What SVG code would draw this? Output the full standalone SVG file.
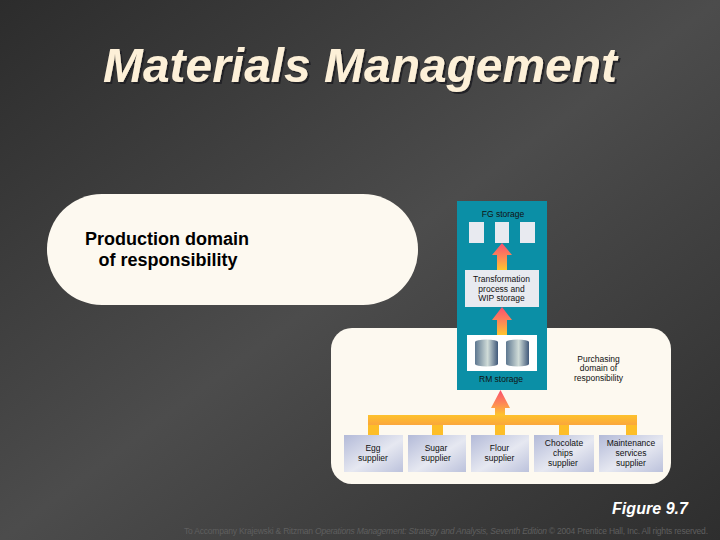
<svg xmlns="http://www.w3.org/2000/svg" width="720" height="540" viewBox="0 0 720 540">
<style>
.t{font-family:"Liberation Sans",Arial,sans-serif}
.s{font-size:8.5px;fill:#111;text-anchor:middle}
.p{font-size:18px;font-weight:700;fill:#000;text-anchor:middle}
.box{fill:#e8eaf0}
.bar{fill:#fdbe28}
.hd{fill:url(#arrowGrad)}
.cyl{fill:url(#cylGrad)}
</style>
<defs>
<linearGradient id="bg" x1="0" y1="0" x2="1" y2="1">
<stop offset="0" stop-color="#2c2c2c"/><stop offset="0.5" stop-color="#4c4c4c"/><stop offset="1" stop-color="#2e2e2e"/>
</linearGradient>
<linearGradient id="arrowGrad" x1="0" y1="0" x2="0" y2="1">
<stop offset="0" stop-color="#fb4f6e"/><stop offset="0.55" stop-color="#fd8a55"/><stop offset="1" stop-color="#fdc52e"/>
</linearGradient>
<linearGradient id="barGrad" x1="0" y1="0" x2="0" y2="1">
<stop offset="0" stop-color="#fdc22c"/><stop offset="1" stop-color="#fba63c"/>
</linearGradient>
<linearGradient id="cylGrad" x1="0" y1="0" x2="1" y2="0">
<stop offset="0" stop-color="#5d7790"/><stop offset="0.55" stop-color="#d0dcd8"/><stop offset="1" stop-color="#41597a"/>
</linearGradient>
<linearGradient id="supGrad" x1="0" y1="0" x2="1" y2="1">
<stop offset="0" stop-color="#b3bad8"/><stop offset="0.55" stop-color="#e6e8f1"/><stop offset="1" stop-color="#bcc2dc"/>
</linearGradient>
<filter id="sh" x="-5%" y="-20%" width="110%" height="150%">
<feDropShadow dx="2" dy="2" stdDeviation="0.4" flood-color="#222226"/>
</filter>
</defs>
<rect width="720" height="540" fill="url(#bg)"/>
<g id="title" class="t" font-size="49" font-weight="700" font-style="italic">
<text x="360" y="82" text-anchor="middle" fill="#fdf0d8" filter="url(#sh)" textLength="514" lengthAdjust="spacingAndGlyphs">Materials Management</text>
</g>
<g id="production-domain">
<rect x="47" y="194" width="371" height="111" rx="55" fill="#fdf9f0"/>
<text class="t p" x="167" y="245">Production domain</text>
<text class="t p" x="168" y="266">of responsibility</text>
</g>
<g id="purchasing-domain">
<rect x="331" y="328" width="340" height="156" rx="21" fill="#fdf9f0"/>
<text class="t s" x="598.500" y="362">Purchasing</text>
<text class="t s" x="598.500" y="371">domain of</text>
<text class="t s" x="598.500" y="381">responsibility</text>
</g>
<g id="operations">
<rect x="457" y="201" width="90" height="189" fill="#0b8fa6"/>
<text class="t s" x="503" y="216.500">FG storage</text>
</g>
<g id="fg-storage">
<rect class="box" x="469" y="222" width="15" height="21"/>
<rect class="box" x="495" y="222" width="14" height="21"/>
<rect class="box" x="520" y="222" width="15" height="21"/>
</g>
<g id="transformation">
<rect class="box" x="465" y="270" width="74" height="37"/>
<text class="t s" x="501.500" y="282">Transformation</text>
<text class="t s" x="501.500" y="292">process and</text>
<text class="t s" x="501.500" y="301">WIP storage</text>
</g>
<g id="rm-storage">
<rect x="467" y="335" width="70" height="36" fill="#fff"/>
<rect class="cyl" x="475" y="342" width="23" height="22"/><ellipse class="cyl" cx="486.500" cy="364" rx="11.500" ry="2.500"/><ellipse class="cyl" cx="486.500" cy="342" rx="11.500" ry="2.500"/>
<rect class="cyl" x="506" y="342" width="23" height="22"/><ellipse class="cyl" cx="517.500" cy="364" rx="11.500" ry="2.500"/><ellipse class="cyl" cx="517.500" cy="342" rx="11.500" ry="2.500"/>
<text class="t s" x="501" y="382">RM storage</text>
</g>
<g id="connectors">
<rect x="368" y="415" width="269" height="10" fill="url(#barGrad)"/>
<rect class="bar" x="368" y="425" width="11" height="10"/>
<rect class="bar" x="432" y="425" width="11" height="10"/>
<rect class="bar" x="495" y="425" width="10" height="10"/>
<rect class="bar" x="559" y="425" width="10" height="10"/>
<rect class="bar" x="626" y="425" width="11" height="10"/>
<path class="hd" d="M502 243L512 255H507V270H497V255H492Z"/>
<path class="hd" d="M502 307L512 320H507V335H497V320H492Z"/>
<path class="hd" d="M500.500 390L510 408H505V415H495V408H491Z"/>
</g>
<g id="egg-supplier"><rect x="344" y="435" width="59" height="37" fill="url(#supGrad)"/><text class="t s" x="373" y="451">Egg</text><text class="t s" x="373" y="461">supplier</text></g>
<g id="sugar-supplier"><rect x="408" y="435" width="58" height="37" fill="url(#supGrad)"/><text class="t s" x="436" y="451">Sugar</text><text class="t s" x="436" y="461">supplier</text></g>
<g id="flour-supplier"><rect x="471" y="435" width="58" height="37" fill="url(#supGrad)"/><text class="t s" x="499.500" y="451">Flour</text><text class="t s" x="499.500" y="461">supplier</text></g>
<g id="chocolate-supplier"><rect x="534" y="435" width="60" height="37" fill="url(#supGrad)"/><text class="t s" x="564" y="446">Chocolate</text><text class="t s" x="563" y="456">chips</text><text class="t s" x="563" y="466">supplier</text></g>
<g id="maintenance-supplier"><rect x="599" y="435" width="64" height="37" fill="url(#supGrad)"/><text class="t s" x="631" y="446">Maintenance</text><text class="t s" x="631" y="456">services</text><text class="t s" x="631" y="466">supplier</text></g>
<g id="figure" class="t" font-size="16" font-style="italic" font-weight="700">
<text x="650" y="514" text-anchor="middle" fill="#fff" textLength="76">Figure 9.7</text>
</g>
<g id="credit" class="t" font-size="8.500" fill="#5f5f5f">
<text x="184" y="534" textLength="524" lengthAdjust="spacing">To Accompany Krajewski &amp; Ritzman <tspan font-style="italic">Operations Management: Strategy and Analysis, Seventh Edition</tspan> © 2004 Prentice Hall, Inc. All rights reserved.</text>
</g>
</svg>
